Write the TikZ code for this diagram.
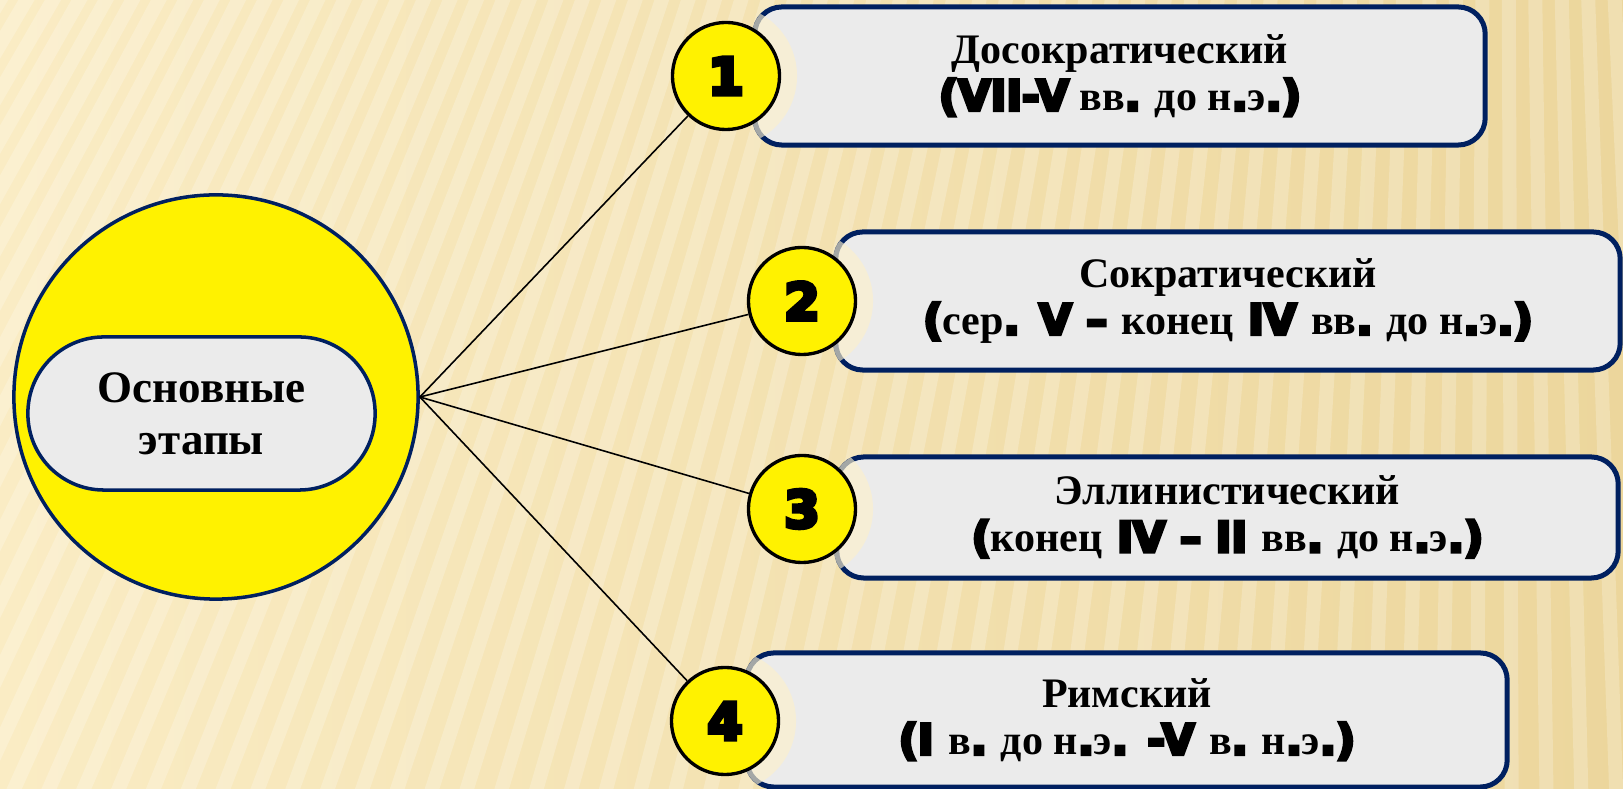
\documentclass[tikz,border=0pt]{standalone}
\usepackage{fontspec}
\setmainfont{Liberation Serif}
\newfontfamily\heavyfont[FakeBold=8]{DejaVu Sans Bold}
\newcommand{\hv}[1]{{\heavyfont #1}}
\definecolor{navy}{HTML}{002060}
\definecolor{boxgray}{HTML}{EBEBEB}
\definecolor{cream}{HTML}{FCF0CC}
\definecolor{sandleft}{HTML}{FAECC4}
\definecolor{sandright}{HTML}{ECD69C}
\tikzset{
  stagebox/.style={draw=navy,line width=1.42pt,fill=boxgray,rounded corners=0.27cm,
    align=center,inner sep=0pt,font=\bfseries\fontsize{11.95pt}{13.4pt}\selectfont},
  pillbox/.style={draw=navy,line width=1pt,fill=boxgray,rounded corners=0.76cm,
    align=center,inner sep=0pt,font=\bfseries\fontsize{12.8pt}{14.8pt}\selectfont},
  bigdisc/.style={circle,draw=navy,line width=1pt,fill=yellow,inner sep=0pt},
  numdisc/.style={circle,draw=black,line width=0.95pt,fill=yellow,inner sep=0pt,
    minimum size=1.07cm,font=\heavyfont\fontsize{14.5pt}{14.5pt}\selectfont},
  halo/.style={fill=cream,opacity=0.65},
  link/.style={black,line width=0.45pt},
  stripe/.style={white,line width=0.14cm,opacity=0.22}
}
\begin{document}
\begin{tikzpicture}[x=0.01cm,y=-0.01cm]
\useasboundingbox (0,0) rectangle (1623,789);
%background
\shade[left color=sandleft,right color=sandright] (0,0) rectangle (1623,789);
\begin{scope}
\clip (0,0) rectangle (1623,789);
\foreach \k in {-45,...,50}
  \draw[stripe] (1500,-2500) -- (\k*36,900);
\end{scope}

%centre
\node[bigdisc,minimum size=4.04cm] (core) at (216,397) {};
\node[pillbox,minimum width=3.47cm,minimum height=1.53cm] (stages) at (201.5,413.5) {Основные\\этапы};

%stages
\node[stagebox,minimum width=7.30cm,minimum height=1.38cm] (b1) at (1120,76)
  {Досократический\\\hv{(VII-V} вв\hv{.} до н\hv{.}э\hv{.)}};
\node[stagebox,minimum width=7.84cm,minimum height=1.38cm] (b2) at (1228,301)
  {Сократический\\\hv{(}сер\hv{. V – }конец\hv{ IV }вв\hv{.} до н\hv{.}э\hv{.)}};
\node[stagebox,minimum width=7.81cm,minimum height=1.21cm] (b3) at (1227.5,517.5)
  {Эллинистический\\\hv{(}конец\hv{ IV – II }вв\hv{.} до н\hv{.}э\hv{.)}};
\node[stagebox,minimum width=7.60cm,minimum height=1.34cm] (b4) at (1127,720)
  {Римский\\\hv{(I }в\hv{.} до н\hv{.}э\hv{. -V }в\hv{.} н\hv{.}э\hv{.)}};

%numbers
\coordinate (c1) at (726,76);
\coordinate (c2) at (802,301);
\coordinate (c3) at (802,509);
\coordinate (c4) at (725,721);
\foreach \i in {1,...,4}{
  \begin{scope}
  \clip[rounded corners=0.3cm] (b\i.south west) rectangle (b\i.north east);
  \fill[halo] (c\i) circle (0.71cm);
  \end{scope}
}
\foreach \i in {1,...,4}
  \node[numdisc] (n\i) at (c\i) {\i};

\foreach \i in {1,...,4}
  \draw[link] (core.east) -- (n\i);
\end{tikzpicture}
\end{document}
